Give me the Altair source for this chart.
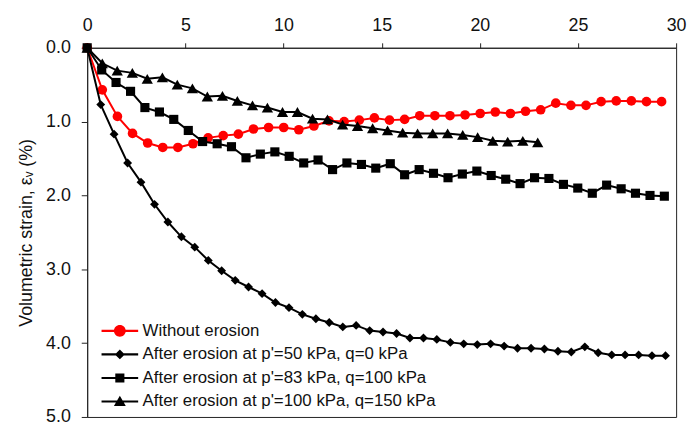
import altair as alt
import pandas as pd

FONT = "Liberation Sans, Arial, sans-serif"

series_names = [
    "Without erosion",
    "After erosion at p'=50 kPa, q=0 kPa",
    "After erosion at p'=83 kPa, q=100 kPa",
    "After erosion at p'=100 kPa, q=150 kPa",
]
series_colors = ["#FF0000", "#000000", "#000000", "#000000"]
plot_shapes = ["circle", "diamond", "square", "triangle-up"]
plot_sizes = [95, 80, 85, 130]

# Without erosion
x_red = [0, 0.77, 1.54, 2.31, 3.08, 3.85, 4.62, 5.39, 6.16, 6.93, 7.70, 8.47, 9.24,
         10.01, 10.78, 11.55, 12.32, 13.09, 13.86, 14.63, 15.40, 16.17, 16.94, 17.71,
         18.48, 19.25, 20.02, 20.79, 21.56, 22.33, 23.10, 23.87, 24.64, 25.41, 26.18,
         26.95, 27.72, 28.49, 29.26]
y_red = [0, 0.57, 0.93, 1.16, 1.29, 1.35, 1.35, 1.30, 1.22, 1.19, 1.17, 1.10, 1.08,
         1.08, 1.11, 1.06, 0.99, 1.00, 0.98, 0.95, 0.98, 0.97, 0.92, 0.92, 0.92, 0.91,
         0.89, 0.87, 0.89, 0.86, 0.84, 0.75, 0.78, 0.78, 0.73, 0.72, 0.72, 0.73, 0.73]

# After erosion at p'=50 kPa, q=0 kPa
x_dia = [0, 0.69, 1.37, 2.06, 2.74, 3.43, 4.11, 4.80, 5.48, 6.17, 6.85, 7.54, 8.22,
         8.91, 9.59, 10.28, 10.96, 11.65, 12.33, 13.02, 13.70, 14.39, 15.07, 15.76,
         16.44, 17.13, 17.81, 18.50, 19.18, 19.87, 20.55, 21.24, 21.92, 22.61, 23.29,
         23.98, 24.66, 25.35, 26.03, 26.72, 27.40, 28.09, 28.77, 29.46]
y_dia = [0, 0.77, 1.17, 1.56, 1.82, 2.12, 2.36, 2.56, 2.70, 2.88, 3.02, 3.15, 3.24,
         3.33, 3.45, 3.52, 3.61, 3.67, 3.72, 3.78, 3.76, 3.83, 3.85, 3.87, 3.93, 3.93,
         3.95, 3.99, 4.01, 4.02, 4.01, 4.04, 4.07, 4.07, 4.08, 4.11, 4.12, 4.05, 4.13,
         4.16, 4.16, 4.16, 4.17, 4.17]

# After erosion at p'=83 kPa, q=100 kPa
x_sq = [0, 0.74, 1.47, 2.21, 2.94, 3.68, 4.41, 5.15, 5.88, 6.62, 7.35, 8.09, 8.82,
        9.56, 10.29, 11.03, 11.76, 12.50, 13.23, 13.97, 14.70, 15.44, 16.17, 16.91,
        17.64, 18.38, 19.11, 19.85, 20.58, 21.32, 22.05, 22.79, 23.52, 24.26, 24.99,
        25.73, 26.46, 27.20, 27.93, 28.67, 29.40]
y_sq = [0, 0.30, 0.47, 0.59, 0.81, 0.87, 0.97, 1.12, 1.27, 1.30, 1.34, 1.49, 1.44,
        1.41, 1.47, 1.56, 1.52, 1.65, 1.56, 1.58, 1.63, 1.57, 1.72, 1.65, 1.70, 1.76,
        1.71, 1.67, 1.73, 1.78, 1.84, 1.76, 1.77, 1.85, 1.90, 1.97, 1.86, 1.91, 1.97,
        2.00, 2.01]

# After erosion at p'=100 kPa, q=150 kPa
x_tri = [0, 0.77, 1.53, 2.30, 3.06, 3.83, 4.59, 5.36, 6.12, 6.89, 7.65, 8.42, 9.18,
         9.95, 10.71, 11.48, 12.24, 13.01, 13.77, 14.54, 15.30, 16.07, 16.83, 17.60,
         18.36, 19.13, 19.89, 20.66, 21.42, 22.19, 22.95]
y_tri = [0, 0.21, 0.31, 0.34, 0.42, 0.40, 0.50, 0.55, 0.66, 0.65, 0.72, 0.78, 0.81,
         0.87, 0.87, 0.96, 0.97, 1.04, 1.06, 1.09, 1.12, 1.15, 1.16, 1.16, 1.16, 1.18,
         1.21, 1.26, 1.27, 1.26, 1.28]

x_ticks = [0, 5, 10, 15, 20, 25, 30]
y_ticks = [0, 1, 2, 3, 4, 5]

# legend symbols: a line segment with the marker in its middle (custom SVG paths)
bar = "M-1.85,-0.11 L1.85,-0.11 L1.85,0.11 L-1.85,0.11 Z "
legend_paths = [
    bar + "M-0.6,0 A0.6,0.6 0 1,1 0.6,0 A0.6,0.6 0 1,1 -0.6,0 Z",
    bar + "M0,-0.5 L0.5,0 L0,0.5 L-0.5,0 Z",
    bar + "M-0.46,-0.46 L0.46,-0.46 L0.46,0.46 L-0.46,0.46 Z",
    bar + "M0,-0.58 L0.6,0.46 L-0.6,0.46 Z",
]

xs = [x_red, x_dia, x_sq, x_tri]
ys = [y_red, y_dia, y_sq, y_tri]
frames = []
for name, xv, yv in zip(series_names, xs, ys):
    frames.append(pd.DataFrame({"series": name, "x": xv, "y": yv}))
df = pd.concat(frames, ignore_index=True)

x_enc = alt.X(
    "x:Q",
    scale=alt.Scale(domain=[0, 30], nice=False, zero=False),
    axis=alt.Axis(orient="top", values=x_ticks, title=None, tickSize=5,
                  labelPadding=8, format="d", labelFlush=False),
)
y_enc = alt.Y(
    "y:Q",
    scale=alt.Scale(domain=[0, 5], reverse=True, nice=False),
    axis=alt.Axis(values=y_ticks, format=".1f", title="Volumetric strain, εᵥ (%)",
                  tickSize=6, labelPadding=11, titlePadding=10, labelFlush=False),
)

layers = []
for name, col, shp, sz in zip(series_names, series_colors, plot_shapes, plot_sizes):
    layers.append(
        alt.Chart(df)
        .transform_filter(alt.datum.series == name)
        .mark_line(
            color=col,
            strokeWidth=2,
            point=alt.OverlayMarkDef(shape=shp, size=sz, filled=True, color=col,
                                     strokeWidth=0, opacity=1),
        )
        .encode(x=x_enc, y=y_enc, order="x:Q")
    )

legend_def = alt.Legend(
    title=None,
    orient="none",
    legendX=23,
    legendY=276,
    symbolSize=400,
    symbolStrokeWidth=0,
    labelOffset=13,
    labelFontSize=17,
    labelFont=FONT,
    labelColor="#111",
    labelLimit=500,
    rowPadding=5.8,
    padding=0,
)

legend_layer = (
    alt.Chart(df)
    .transform_filter("false")
    .mark_point(filled=True, opacity=1)
    .encode(
        color=alt.Color("series:N", scale=alt.Scale(domain=series_names, range=series_colors),
                        legend=legend_def),
        shape=alt.Shape("series:N", scale=alt.Scale(domain=series_names, range=legend_paths),
                        legend=legend_def),
    )
)

chart = (
    alt.layer(*layers, legend_layer)
    .properties(
        width=595,
        height=373,
        autosize=alt.AutoSizeParams(type="none"),
        padding={"left": 80, "top": 38, "right": 12, "bottom": 12},
        background="white",
    )
    .configure_view(stroke="#222", strokeWidth=1)
    .configure_axis(
        domainColor="#222",
        tickColor="#222",
        labelColor="#111",
        labelFont=FONT,
        labelFontSize=18,
        titleFont=FONT,
        titleFontSize=18,
        titleFontWeight="normal",
        titleColor="#111",
        grid=False,
        domainWidth=1,
        tickWidth=1,
    )
)

chart.save("out.html", embed_options={"renderer": "svg", "actions": False})
